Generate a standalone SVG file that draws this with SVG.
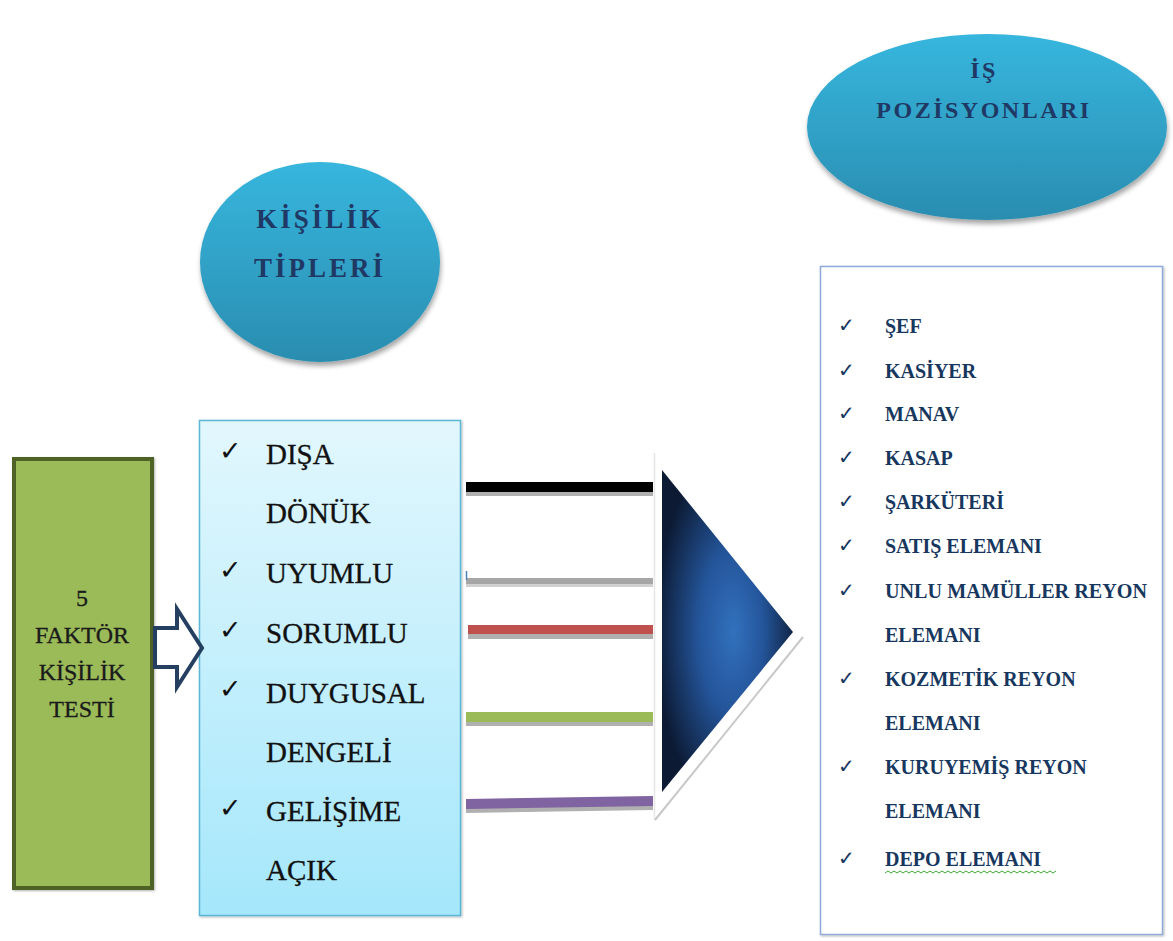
<svg xmlns="http://www.w3.org/2000/svg" width="1173" height="941" viewBox="0 0 1173 941">
<defs>
<linearGradient id="ellG" x1="0" y1="0" x2="0" y2="1">
<stop offset="0" stop-color="#37b6de"/>
<stop offset="1" stop-color="#2a8db0"/>
</linearGradient>
<linearGradient id="listG" x1="0" y1="0" x2="0" y2="1">
<stop offset="0" stop-color="#e2f7fd"/>
<stop offset="1" stop-color="#a5e7fb"/>
</linearGradient>
<radialGradient id="triG" cx="0.5" cy="0.5" r="0.55" fx="0.55" fy="0.5">
<stop offset="0" stop-color="#3271be"/>
<stop offset="0.45" stop-color="#24559a"/>
<stop offset="1" stop-color="#0c1a33"/>
</radialGradient>
<filter id="sh" x="-10%" y="-10%" width="125%" height="130%">
<feDropShadow dx="1" dy="4" stdDeviation="2.5" flood-color="#000" flood-opacity="0.35"/>
</filter>
<filter id="soft" x="-5%" y="-5%" width="110%" height="110%">
<feDropShadow dx="1" dy="1" stdDeviation="1" flood-color="#000" flood-opacity="0.3"/>
</filter>
</defs>
<style>
.etxt{font-family:"Liberation Serif",serif;font-weight:bold;fill:#1f3864;text-anchor:middle}
.ltxt{font-family:"Liberation Serif",serif;font-size:29px;fill:#111;stroke:#111;stroke-width:0.3}
.gtxt{font-family:"Liberation Serif",serif;font-size:24px;fill:#1a1a1a;stroke:#1a1a1a;stroke-width:0.3;text-anchor:middle}
.rtxt{font-family:"Liberation Serif",serif;font-weight:bold;font-size:20px;fill:#17375e}
.chk{font-family:"DejaVu Sans",sans-serif;font-size:27px;fill:#111}
.rchk{font-family:"DejaVu Sans",sans-serif;font-size:20px;fill:#17375e}
</style>

<g id="is-pozisyonlari">
<ellipse cx="987" cy="127" rx="180" ry="93" fill="url(#ellG)" filter="url(#sh)"/>
<text class="etxt" x="984" y="78" font-size="24" letter-spacing="2.5">İŞ</text>
<text class="etxt" x="984" y="118" font-size="24" letter-spacing="2.5">POZİSYONLARI</text>
</g>

<g id="kisilik-tipleri">
<ellipse cx="320" cy="262" rx="120" ry="100" fill="url(#ellG)" filter="url(#sh)"/>
<text class="etxt" x="320" y="228" font-size="27" letter-spacing="3">KİŞİLİK</text>
<text class="etxt" x="320" y="277" font-size="27" letter-spacing="3">TİPLERİ</text>
</g>

<g id="faktor-testi">
<rect x="14" y="459" width="138" height="429" fill="#9bbb59" stroke="#4f6228" stroke-width="4" filter="url(#soft)"/>
<text class="gtxt" x="82" y="606">5</text>
<text class="gtxt" x="82" y="643">FAKTÖR</text>
<text class="gtxt" x="82" y="680">KİŞİLİK</text>
<text class="gtxt" x="82" y="717">TESTİ</text>
</g>

<g id="kisilik-listesi">
<rect x="199.5" y="420.5" width="261" height="495" fill="url(#listG)" stroke="#5bb7d5" stroke-width="1.5" filter="url(#soft)"/>
<text class="chk" x="219" y="460">✓</text>
<text class="ltxt" x="266" y="464">DIŞA</text>
<text class="ltxt" x="266" y="523">DÖNÜK</text>
<text class="chk" x="219" y="579">✓</text>
<text class="ltxt" x="266" y="583">UYUMLU</text>
<text class="chk" x="219" y="639">✓</text>
<text class="ltxt" x="266" y="643">SORUMLU</text>
<text class="chk" x="219" y="698">✓</text>
<text class="ltxt" x="266" y="703">DUYGUSAL</text>
<text class="ltxt" x="266" y="762">DENGELİ</text>
<text class="chk" x="219" y="817">✓</text>
<text class="ltxt" x="266" y="821">GELİŞİME</text>
<text class="ltxt" x="266" y="880">AÇIK</text>
</g>

<g id="connectors">
<polygon points="155,628 177,628 177,609 202,648 177,687 177,667 155,667" fill="#fff" stroke="#243f60" stroke-width="4" stroke-linejoin="miter"/>
<rect x="466" y="491" width="187" height="5" fill="#b0b0b0"/>
<rect x="466" y="482" width="187" height="10" fill="#000"/>
<rect x="466" y="584" width="187" height="3" fill="#d0d0d0"/>
<rect x="466" y="578" width="187" height="6" fill="#a6a6a6"/>
<line x1="466.5" y1="571" x2="466.5" y2="580" stroke="#4f81bd" stroke-width="1.5"/>
<rect x="468" y="634" width="185" height="5" fill="#b0b0b0"/>
<rect x="468" y="625" width="185" height="9" fill="#c0504d"/>
<rect x="466" y="721" width="187" height="5" fill="#b0b0b0"/>
<rect x="466" y="712" width="187" height="10" fill="#9bbb59"/>
<polygon points="466,808 653,805 653,810 466,813" fill="#b0b0b0"/>
<polygon points="466,799 653,796 653,806 466,809" fill="#8064a2"/>
<line x1="654.5" y1="453" x2="654.5" y2="820" stroke="#e6e6e6" stroke-width="1.5"/>
</g>

<g id="ok-ucgen">
<polygon points="662,470 793,632 662,792" fill="url(#triG)"/>
<line x1="655" y1="820" x2="803" y2="637" stroke="#c8c8c8" stroke-width="2"/>
</g>

<g id="pozisyon-listesi">
<rect x="820.5" y="266.5" width="342" height="668" fill="#fff" stroke="#8eaadb" stroke-width="1.5" filter="url(#soft)"/>
<text class="rchk" x="838" y="332">✓</text><text class="rtxt" x="885" y="333">ŞEF</text>
<text class="rchk" x="838" y="377">✓</text><text class="rtxt" x="885" y="378">KASİYER</text>
<text class="rchk" x="838" y="420">✓</text><text class="rtxt" x="885" y="421">MANAV</text>
<text class="rchk" x="838" y="464">✓</text><text class="rtxt" x="885" y="465">KASAP</text>
<text class="rchk" x="838" y="508">✓</text><text class="rtxt" x="885" y="509">ŞARKÜTERİ</text>
<text class="rchk" x="838" y="552">✓</text><text class="rtxt" x="885" y="553">SATIŞ ELEMANI</text>
<text class="rchk" x="838" y="597">✓</text><text class="rtxt" x="885" y="598" textLength="262" lengthAdjust="spacingAndGlyphs">UNLU MAMÜLLER REYON</text>
<text class="rtxt" x="885" y="642">ELEMANI</text>
<text class="rchk" x="838" y="685">✓</text><text class="rtxt" x="885" y="686">KOZMETİK REYON</text>
<text class="rtxt" x="885" y="730">ELEMANI</text>
<text class="rchk" x="838" y="773">✓</text><text class="rtxt" x="885" y="774">KURUYEMİŞ REYON</text>
<text class="rtxt" x="885" y="818">ELEMANI</text>
<text class="rchk" x="838" y="865">✓</text><text class="rtxt" x="885" y="866">DEPO ELEMANI</text>
<path d="M885 873 l3 -2 l3 2 l3 -2 l3 2 l3 -2 l3 2 l3 -2 l3 2 l3 -2 l3 2 l3 -2 l3 2 l3 -2 l3 2 l3 -2 l3 2 l3 -2 l3 2 l3 -2 l3 2 l3 -2 l3 2 l3 -2 l3 2 l3 -2 l3 2 l3 -2 l3 2 l3 -2 l3 2 l3 -2 l3 2 l3 -2 l3 2 l3 -2 l3 2 l3 -2 l3 2 l3 -2 l3 2 l3 -2 l3 2 l3 -2 l3 2 l3 -2 l3 2 l3 -2 l3 2 l3 -2 l3 2 l3 -2 l3 2 l3 -2 l3 2 l3 -2 l3 2 l3 -2" fill="none" stroke="#3aa832" stroke-width="1"/>
</g>
</svg>
